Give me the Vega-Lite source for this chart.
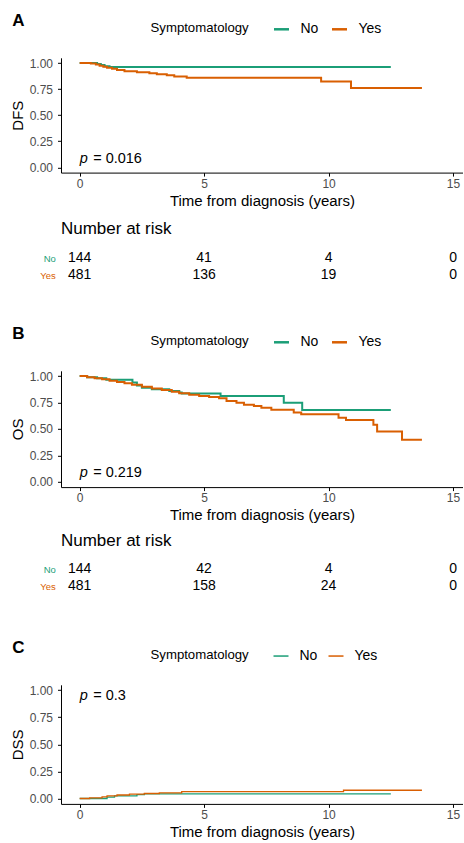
{
  "$schema": "https://vega.github.io/schema/vega-lite/v6.json",
  "padding": {"left": 10, "top": 11.8, "right": 0, "bottom": 0},
  "bounds": "flush",
  "spacing": 0,
  "config": {
    "font": "Liberation Sans",
    "view": {"stroke": null},
    "axis": {
      "grid": false,
      "domainColor": "#000000",
      "domainWidth": 1,
      "tickColor": "#000000",
      "tickSize": 3.5,
      "tickWidth": 1,
      "labelColor": "#4d4d4d",
      "labelFontSize": 12,
      "labelOverlap": false,
      "labelFlush": false,
      "titleFontSize": 15,
      "titleFontWeight": "normal",
      "titleColor": "#000000"
    },
    "axisX": {"labelPadding": 2.3, "titlePadding": 4},
    "axisY": {"labelPadding": 5, "titlePadding": 4},
    "legend": {
      "orient": "none",
      "direction": "horizontal",
      "titleOrient": "left",
      "titleFontSize": 13.2,
      "titleFontWeight": "normal",
      "titleColor": "#000000",
      "labelFontSize": 14,
      "labelColor": "#000000",
      "symbolType": "stroke",
      "symbolSize": 225,
      "symbolStrokeWidth": 2.5,
      "labelOffset": 10,
      "columnPadding": 8,
      "titlePadding": 23
    },
    "title": {
      "anchor": "start",
      "frame": "group",
      "fontSize": 17,
      "fontWeight": "bold",
      "color": "#000000",
      "baseline": "alphabetic"
    }
  },
  "resolve": {
    "scale": {"x": "independent", "y": "independent", "color": "independent"},
    "legend": {"color": "independent"}
  },
  "datasets": {
    "dfs": [
      {"group": "No", "time": 0, "surv": 1.0},
      {"group": "No", "time": 0.7, "surv": 0.99},
      {"group": "No", "time": 0.85, "surv": 0.98},
      {"group": "No", "time": 1.0, "surv": 0.97},
      {"group": "No", "time": 1.2, "surv": 0.962},
      {"group": "No", "time": 12.5, "surv": 0.962},
      {"group": "Yes", "time": 0, "surv": 1.0},
      {"group": "Yes", "time": 0.45, "surv": 0.995},
      {"group": "Yes", "time": 0.65, "surv": 0.985},
      {"group": "Yes", "time": 0.8, "surv": 0.975},
      {"group": "Yes", "time": 0.95, "surv": 0.965},
      {"group": "Yes", "time": 1.1, "surv": 0.955},
      {"group": "Yes", "time": 1.3, "surv": 0.945},
      {"group": "Yes", "time": 1.5, "surv": 0.932},
      {"group": "Yes", "time": 1.8, "surv": 0.922},
      {"group": "Yes", "time": 2.3, "surv": 0.912},
      {"group": "Yes", "time": 2.8, "surv": 0.902},
      {"group": "Yes", "time": 3.1, "surv": 0.892},
      {"group": "Yes", "time": 3.5, "surv": 0.882},
      {"group": "Yes", "time": 3.8, "surv": 0.872},
      {"group": "Yes", "time": 4.3, "surv": 0.858},
      {"group": "Yes", "time": 9.7, "surv": 0.824},
      {"group": "Yes", "time": 10.9, "surv": 0.76},
      {"group": "Yes", "time": 13.75, "surv": 0.76}
    ],
    "os": [
      {"group": "No", "time": 0, "surv": 1.0},
      {"group": "No", "time": 0.3, "surv": 0.99},
      {"group": "No", "time": 0.7, "surv": 0.98},
      {"group": "No", "time": 1.07, "surv": 0.965},
      {"group": "No", "time": 2.12, "surv": 0.94},
      {"group": "No", "time": 2.3, "surv": 0.91},
      {"group": "No", "time": 2.5, "surv": 0.89},
      {"group": "No", "time": 2.9, "surv": 0.875},
      {"group": "No", "time": 3.6, "surv": 0.86},
      {"group": "No", "time": 4.0, "surv": 0.845},
      {"group": "No", "time": 4.1, "surv": 0.836},
      {"group": "No", "time": 5.66, "surv": 0.812},
      {"group": "No", "time": 8.2, "surv": 0.748},
      {"group": "No", "time": 8.94, "surv": 0.68},
      {"group": "No", "time": 12.5, "surv": 0.68},
      {"group": "Yes", "time": 0, "surv": 1.0},
      {"group": "Yes", "time": 0.3, "surv": 0.99},
      {"group": "Yes", "time": 0.6, "surv": 0.98},
      {"group": "Yes", "time": 0.9, "surv": 0.97},
      {"group": "Yes", "time": 1.2, "surv": 0.955},
      {"group": "Yes", "time": 1.5, "surv": 0.943},
      {"group": "Yes", "time": 1.8, "surv": 0.932},
      {"group": "Yes", "time": 2.1, "surv": 0.918},
      {"group": "Yes", "time": 2.5, "surv": 0.9},
      {"group": "Yes", "time": 2.9, "surv": 0.882},
      {"group": "Yes", "time": 3.3, "surv": 0.868},
      {"group": "Yes", "time": 3.7, "surv": 0.852},
      {"group": "Yes", "time": 4.0, "surv": 0.838},
      {"group": "Yes", "time": 4.4, "surv": 0.824},
      {"group": "Yes", "time": 4.8, "surv": 0.812},
      {"group": "Yes", "time": 5.2, "surv": 0.802},
      {"group": "Yes", "time": 5.6, "surv": 0.79},
      {"group": "Yes", "time": 5.9, "surv": 0.765},
      {"group": "Yes", "time": 6.3, "surv": 0.748},
      {"group": "Yes", "time": 6.6, "surv": 0.73},
      {"group": "Yes", "time": 7.0, "surv": 0.716},
      {"group": "Yes", "time": 7.3, "surv": 0.7},
      {"group": "Yes", "time": 7.7, "surv": 0.681},
      {"group": "Yes", "time": 8.6, "surv": 0.656},
      {"group": "Yes", "time": 8.9, "surv": 0.64},
      {"group": "Yes", "time": 10.4, "surv": 0.605},
      {"group": "Yes", "time": 10.7, "surv": 0.584},
      {"group": "Yes", "time": 11.8, "surv": 0.54},
      {"group": "Yes", "time": 11.95, "surv": 0.476},
      {"group": "Yes", "time": 12.95, "surv": 0.397},
      {"group": "Yes", "time": 13.75, "surv": 0.397}
    ],
    "dss": [
      {"group": "No", "time": 0, "surv": 0.0},
      {"group": "No", "time": 1.1, "surv": 0.012},
      {"group": "No", "time": 1.4, "surv": 0.024},
      {"group": "No", "time": 2.3, "surv": 0.036},
      {"group": "No", "time": 2.6, "surv": 0.042},
      {"group": "No", "time": 12.5, "surv": 0.042},
      {"group": "Yes", "time": 0, "surv": 0.0},
      {"group": "Yes", "time": 0.4, "surv": 0.006},
      {"group": "Yes", "time": 0.9, "surv": 0.015},
      {"group": "Yes", "time": 1.1, "surv": 0.024},
      {"group": "Yes", "time": 1.5, "surv": 0.032},
      {"group": "Yes", "time": 2.0, "surv": 0.04},
      {"group": "Yes", "time": 2.6, "surv": 0.046},
      {"group": "Yes", "time": 3.2, "surv": 0.052},
      {"group": "Yes", "time": 4.1, "surv": 0.064},
      {"group": "Yes", "time": 10.6, "surv": 0.076},
      {"group": "Yes", "time": 13.75, "surv": 0.076}
    ],
    "riskA": [
      {"group": "No", "time": 0, "n": 144},
      {"group": "No", "time": 5, "n": 41},
      {"group": "No", "time": 10, "n": 4},
      {"group": "No", "time": 15, "n": 0},
      {"group": "Yes", "time": 0, "n": 481},
      {"group": "Yes", "time": 5, "n": 136},
      {"group": "Yes", "time": 10, "n": 19},
      {"group": "Yes", "time": 15, "n": 0}
    ],
    "riskB": [
      {"group": "No", "time": 0, "n": 144},
      {"group": "No", "time": 5, "n": 42},
      {"group": "No", "time": 10, "n": 4},
      {"group": "No", "time": 15, "n": 0},
      {"group": "Yes", "time": 0, "n": 481},
      {"group": "Yes", "time": 5, "n": 158},
      {"group": "Yes", "time": 10, "n": 24},
      {"group": "Yes", "time": 15, "n": 0}
    ]
  },
  "vconcat": [
    {
      "width": 402,
      "height": 114.8,
      "title": {"text": "A", "offset": -9.5, "dx": -48.7},
      "encoding": {
        "x": {"field": "time", "type": "quantitative", "scale": {"domain": [-0.75, 15.4], "nice": false, "zero": false}, "axis": {"values": [0, 5, 10, 15], "title": "Time from diagnosis (years)"}},
        "y": {"field": "surv", "type": "quantitative", "scale": {"domain": [-0.05, 1.05], "nice": false, "zero": false}, "axis": {"values": [0, 0.25, 0.5, 0.75, 1], "format": ".2f", "title": "DFS"}}
      },
      "layer": [
        {
          "data": {"name": "dfs"},
          "mark": {"type": "line", "interpolate": "step-after", "strokeWidth": 2},
          "encoding": {
            "color": {"field": "group", "type": "nominal", "scale": {"domain": ["No", "Yes"], "range": ["#1b9e77", "#d95f02"]}, "legend": {"title": "Symptomatology", "legendX": 89.5, "legendY": -37.5}}
          }
        },
        {
          "data": {"values": [{"time": 0, "surv": 0.08, "sym": "p", "val": "= 0.016"}]},
          "mark": {"type": "text", "align": "left", "baseline": "middle", "fontSize": 14.5, "fontStyle": "italic", "color": "#000000"},
          "encoding": {"text": {"field": "sym"}}
        },
        {
          "data": {"values": [{"time": 0, "surv": 0.08, "sym": "p", "val": "= 0.016"}]},
          "mark": {"type": "text", "align": "left", "baseline": "middle", "fontSize": 14.5, "dx": 13.5, "color": "#000000"},
          "encoding": {"text": {"field": "val"}}
        }
      ]
    },
    {"width": 402, "height": 76.1, "data": {"values": []}, "mark": "point"},
    {
      "width": 402,
      "height": 34,
      "title": {"text": "Number at risk", "fontWeight": "normal", "fontSize": 17, "offset": 11.8},
      "data": {"name": "riskA"},
      "mark": {"type": "text", "fontSize": 14, "color": "#000000", "baseline": "middle"},
      "encoding": {
        "x": {"field": "time", "type": "quantitative", "scale": {"domain": [-0.75, 15.4], "nice": false, "zero": false}, "axis": null},
        "y": {"field": "group", "type": "nominal", "scale": {"type": "point", "domain": ["No", "Yes"], "padding": 0.5}, "axis": {"title": null, "domain": false, "ticks": false, "tickSize": 0, "labelFontSize": 9.5, "labelPadding": 5.7, "labelColor": {"condition": {"test": "datum.value === 'No'", "value": "#1b9e77"}, "value": "#d95f02"}}},
        "text": {"field": "n", "type": "quantitative"}
      }
    },
    {"width": 402, "height": 86.2, "data": {"values": []}, "mark": "point"},
    {
      "width": 402,
      "height": 116.3,
      "title": {"text": "B", "offset": -9.5, "dx": -48.7},
      "encoding": {
        "x": {"field": "time", "type": "quantitative", "scale": {"domain": [-0.75, 15.4], "nice": false, "zero": false}, "axis": {"values": [0, 5, 10, 15], "title": "Time from diagnosis (years)"}},
        "y": {"field": "surv", "type": "quantitative", "scale": {"domain": [-0.05, 1.05], "nice": false, "zero": false}, "axis": {"values": [0, 0.25, 0.5, 0.75, 1], "format": ".2f", "title": "OS"}}
      },
      "layer": [
        {
          "data": {"name": "os"},
          "mark": {"type": "line", "interpolate": "step-after", "strokeWidth": 2},
          "encoding": {
            "color": {"field": "group", "type": "nominal", "scale": {"domain": ["No", "Yes"], "range": ["#1b9e77", "#d95f02"]}, "legend": {"title": "Symptomatology", "legendX": 89.5, "legendY": -37.5}}
          }
        },
        {
          "data": {"values": [{"time": 0, "surv": 0.08, "sym": "p", "val": "= 0.219"}]},
          "mark": {"type": "text", "align": "left", "baseline": "middle", "fontSize": 14.5, "fontStyle": "italic", "color": "#000000"},
          "encoding": {"text": {"field": "sym"}}
        },
        {
          "data": {"values": [{"time": 0, "surv": 0.08, "sym": "p", "val": "= 0.219"}]},
          "mark": {"type": "text", "align": "left", "baseline": "middle", "fontSize": 14.5, "dx": 13.5, "color": "#000000"},
          "encoding": {"text": {"field": "val"}}
        }
      ]
    },
    {"width": 402, "height": 73.0, "data": {"values": []}, "mark": "point"},
    {
      "width": 402,
      "height": 34,
      "title": {"text": "Number at risk", "fontWeight": "normal", "fontSize": 17, "offset": 10.6},
      "data": {"name": "riskB"},
      "mark": {"type": "text", "fontSize": 14, "color": "#000000", "baseline": "middle"},
      "encoding": {
        "x": {"field": "time", "type": "quantitative", "scale": {"domain": [-0.75, 15.4], "nice": false, "zero": false}, "axis": null},
        "y": {"field": "group", "type": "nominal", "scale": {"type": "point", "domain": ["No", "Yes"], "padding": 0.5}, "axis": {"title": null, "domain": false, "ticks": false, "tickSize": 0, "labelFontSize": 9.5, "labelPadding": 5.7, "labelColor": {"condition": {"test": "datum.value === 'No'", "value": "#1b9e77"}, "value": "#d95f02"}}},
        "text": {"field": "n", "type": "quantitative"}
      }
    },
    {"width": 402, "height": 89.6, "data": {"values": []}, "mark": "point"},
    {
      "width": 402,
      "height": 119.1,
      "title": {"text": "C", "offset": -9.5, "dx": -48.7},
      "encoding": {
        "x": {"field": "time", "type": "quantitative", "scale": {"domain": [-0.75, 15.4], "nice": false, "zero": false}, "axis": {"values": [0, 5, 10, 15], "title": "Time from diagnosis (years)"}},
        "y": {"field": "surv", "type": "quantitative", "scale": {"domain": [-0.05, 1.05], "nice": false, "zero": false}, "axis": {"values": [0, 0.25, 0.5, 0.75, 1], "format": ".2f", "title": "DSS"}}
      },
      "layer": [
        {
          "data": {"name": "dss"},
          "mark": {"type": "line", "interpolate": "step-after", "strokeWidth": 1.3},
          "encoding": {
            "color": {"field": "group", "type": "nominal", "scale": {"domain": ["No", "Yes"], "range": ["#1b9e77", "#d95f02"]}, "legend": {"title": "Symptomatology", "legendX": 89.5, "legendY": -37.5, "symbolStrokeWidth": 1.5}}
          }
        },
        {
          "data": {"values": [{"time": 0, "surv": 0.95, "sym": "p", "val": "= 0.3"}]},
          "mark": {"type": "text", "align": "left", "baseline": "middle", "fontSize": 14.5, "fontStyle": "italic", "color": "#000000"},
          "encoding": {"text": {"field": "sym"}}
        },
        {
          "data": {"values": [{"time": 0, "surv": 0.95, "sym": "p", "val": "= 0.3"}]},
          "mark": {"type": "text", "align": "left", "baseline": "middle", "fontSize": 14.5, "dx": 13.5, "color": "#000000"},
          "encoding": {"text": {"field": "val"}}
        }
      ]
    }
  ]
}
